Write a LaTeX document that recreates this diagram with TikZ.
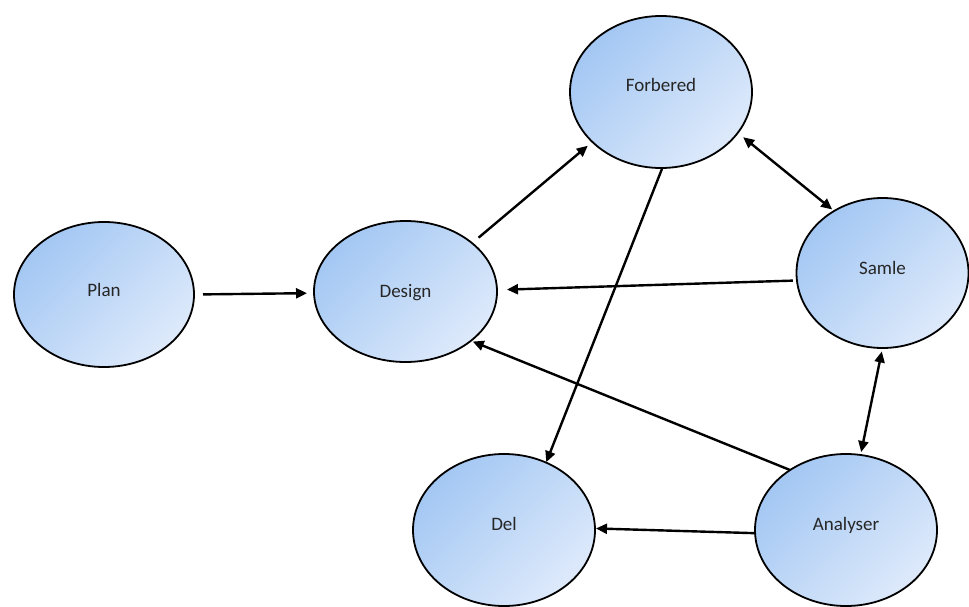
\documentclass[tikz,border=0pt]{standalone}
\usepackage{fontspec}
\setmainfont{Carlito}
\usetikzlibrary{arrows.meta,shapes.geometric}
\definecolor{fillA}{RGB}{163,199,243}
\definecolor{fillB}{RGB}{222,234,251}
\definecolor{txt}{RGB}{38,38,38}
% caption of a stage, lifted a little inside its ellipse
\newcommand{\stagetext}[2]{\raisebox{#1}{#2}}
\begin{document}
\begin{tikzpicture}[x=1pt,y=-1pt,
  stage/.style={ellipse, draw=black, line width=1.8pt, top color=fillA,
    bottom color=fillB, shading angle=45, inner sep=0pt, outer sep=0pt,
    text height=12pt, text depth=0pt,
    font=\fontsize{19}{22}\selectfont, text=txt},
  link/.style={line width=2.4pt, -{Triangle[length=11pt,width=10pt]}},
  both/.style={line width=2.4pt, {Triangle[length=11pt,width=10pt]}-{Triangle[length=11pt,width=10pt]}}]
\useasboundingbox (0,0) rectangle (969,607);

% stages of the process
\node[stage, minimum width=180pt, minimum height=145pt] (plan) at (104,294.5) {\stagetext{4.5pt}{Plan}};
\node[stage, minimum width=183pt, minimum height=141pt] (design) at (405.5,291.5) {\stagetext{0pt}{Design}};
\node[stage, minimum width=182pt, minimum height=152pt] (forbered) at (661,92) {\stagetext{6pt}{Forbered}};
\node[stage, minimum width=172pt, minimum height=150pt] (samle) at (882.5,273) {\stagetext{5pt}{Samle}};
\node[stage, minimum width=182pt, minimum height=152pt] (del) at (504,530) {\stagetext{6pt}{Del}};
\node[stage, minimum width=182pt, minimum height=152pt] (analyser) at (846,530) {\stagetext{6pt}{Analyser}};

% connections between the stages
\draw[link, shorten <=9pt, shorten >=7pt] (plan.0) -- (design.181);
\draw[link, shorten <=8.5pt, shorten >=6pt] (design.36) -- (forbered.216);
\draw[both, shorten <=7pt, shorten >=2.5pt] (forbered.332) -- (samle.128);
\draw[link, shorten <=4pt, shorten >=10pt] (samle.185.5) -- (design.1.4);
\draw[link, shorten <=1pt, shorten >=0.5pt] (forbered.271.5) -- (del.58.3);
\draw[link, shorten <=0pt, shorten >=2pt] (analyser.133.1) -- (design.323.4);
\draw[both, shorten <=3.5pt, shorten >=3pt] (samle.270.6) -- (analyser.79.9);
\draw[link, shorten <=0pt, shorten >=1pt] (analyser.182.4) -- (del.1.9);
\end{tikzpicture}
\end{document}
